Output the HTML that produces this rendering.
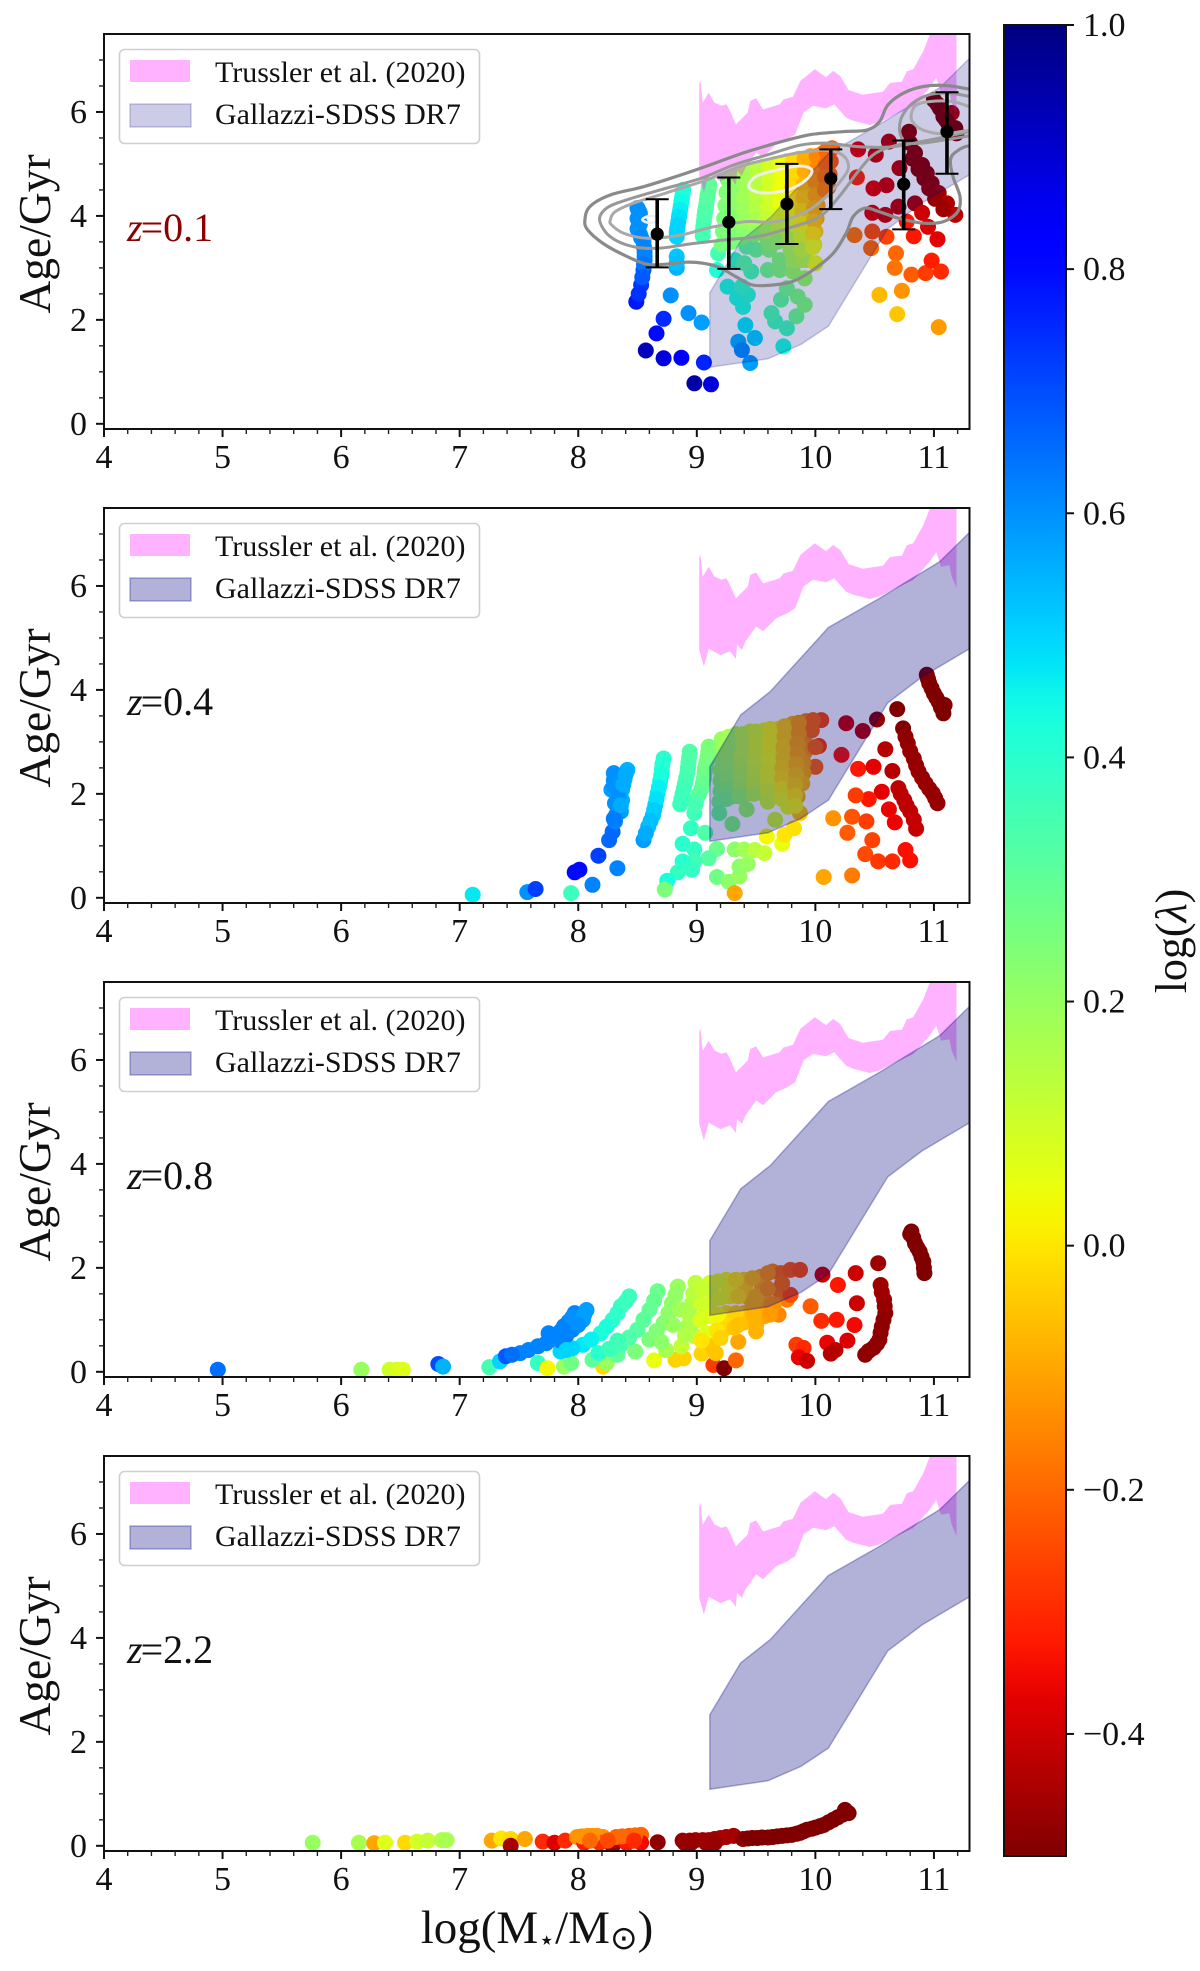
<!DOCTYPE html>
<html lang="en">
<head>
<meta charset="utf-8">
<title>Age versus stellar mass at four redshifts</title>
<style>
html,body{margin:0;padding:0;background:#fff;width:1200px;height:1971px;overflow:hidden}
svg{display:block;font-family:"Liberation Serif",serif}
</style>
</head>
<body>
<svg id="figure" xmlns="http://www.w3.org/2000/svg" width="1200" height="1971" viewBox="0 0 1200 1971">
<defs><linearGradient id="cbGradient" x1="0" y1="0" x2="0" y2="1"></linearGradient></defs>
</svg>
<script>
const xTicks=[4,5,6,7,8,9,10,11];
const xMinorTicks=[4.2,4.4,4.6,4.8,5.2,5.4,5.6,5.8,6.2,6.4,6.6,6.8,7.2,7.4,7.6,7.8,8.2,8.4,8.6,8.8,9.2,9.4,9.6,9.8,10.2,10.4,10.6,10.8,11.2];
const yTicks=[0,2,4,6];
const yMinorTicks=[0.5,1,1.5,2.5,3,3.5,4.5,5,5.5,6.5,7];
const colorbarTicks=[1,0.8,0.6,0.4,0.2,0,-0.2,-0.4];
const colorbarTickLabels=['1.0','0.8','0.6','0.4','0.2','0.0','−0.2','−0.4'];
const redshiftLabels=['0.1','0.4','0.8','2.2'];

const trusslerMass=[9.02,9.03,9.05,9.10,9.15,9.21,9.25,9.28,9.33,9.43,9.45,9.50,9.56,9.70,9.73,9.81,9.875,9.995,10.09,10.15,10.21,10.28,10.40,10.57,10.63,10.73,10.77,10.825,10.91,10.965,11.02,11.19,11.19,11.15,11.13,11.06,11.02,10.965,10.825,10.68,10.54,10.46,10.32,10.26,10.16,10.09,9.98,9.90,9.83,9.76,9.67,9.56,9.50,9.41,9.38,9.34,9.33,9.28,9.20,9.10,9.06,9.02];
const trusslerAge=[6.53,6.61,6.18,6.37,6.18,6.12,6.15,6.02,5.76,5.99,6.21,6.26,6.05,6.15,6.24,6.29,6.60,6.82,6.67,6.79,6.69,6.42,6.33,6.39,6.56,6.58,6.78,6.82,7.17,7.49,7.75,7.75,5.96,6.18,6.40,6.37,6.66,6.47,6.11,5.96,5.80,5.75,5.83,5.89,6.15,6.07,6.12,5.99,5.57,5.47,5.38,5.13,5.22,4.93,4.77,4.87,4.60,4.74,4.67,4.79,4.45,4.77];
const gallazziMass=[9.11,9.37,9.62,10.11,10.54,11.05,11.3,11.3,10.90,10.61,10.11,9.88,9.6,9.11];
const gallazziAge=[2.52,3.52,3.97,5.2,5.76,6.47,7.03,4.79,4.25,3.75,1.88,1.53,1.25,1.09];

const errMass=[8.666,9.27,9.76,10.13,10.745,11.11];
const errAge=[3.65,3.88,4.23,4.72,4.61,5.62];
const errHigh=[4.32,4.74,5.0,5.28,5.45,6.38];
const errLow=[3.01,2.98,3.46,4.13,3.74,4.81];

const contourOuterMass=[8.056,8.098,8.267,8.548,8.829,9.11,9.39,9.67,9.95,10.23,10.43,10.54,10.61,10.74,10.91,11.10,11.30,11.45,11.45,11.30,11.19,11.14,11.16,11.22,11.20,11.08,10.91,10.71,10.54,10.42,10.32,10.26,10.15,9.98,9.81,9.64,9.47,9.33,9.19,9.05,8.91,8.74,8.58,8.41,8.21,8.08];
const contourOuterAge=[3.92,4.18,4.40,4.56,4.76,4.98,5.21,5.40,5.56,5.62,5.65,5.81,6.13,6.36,6.49,6.51,6.44,6.4,5.3,5.35,5.24,5.08,4.76,4.37,4.08,3.89,3.86,3.95,4.08,4.15,3.99,3.67,3.28,2.96,2.74,2.67,2.67,2.83,3.01,3.09,3.11,3.07,3.07,3.22,3.47,3.73];
const contourMidMass=[11.30,10.94,10.71,10.51,10.37,10.20,10.04,9.81,9.53,9.25,8.97,8.69,8.46,8.27,8.18,8.24,8.41,8.69,9.03,9.31,9.59,9.87,10.09,10.37,10.65,10.94,11.30];
const contourMidAge=[5.54,5.41,5.37,5.21,4.88,4.37,3.99,3.79,3.61,3.54,3.47,3.38,3.41,3.60,3.92,4.15,4.31,4.50,4.72,4.98,5.17,5.36,5.40,5.33,5.33,5.45,5.62];
const contourRingMass=[11.45,11.30,11.13,10.96,10.82,10.73,10.71,10.74];
const contourRingAge=[6.25,6.30,6.36,6.33,6.17,5.91,5.65,5.43];
const contourInnerRingMass=[11.45,11.30,11.16,10.96,10.85,10.81,10.82,10.91,11.08,11.30,11.45];
const contourInnerRingAge=[6.0,6.10,6.20,6.20,6.13,5.97,5.81,5.65,5.58,5.65,5.7];
const contourThirdMass=[8.27,8.31,8.46,8.74,9.08,9.36,9.64,9.87,10.09,10.23,10.28,10.23,10.09,9.92,9.67,9.42,9.14,8.86,8.58,8.38,8.28];
const contourThirdAge=[3.92,4.08,4.24,4.44,4.69,4.95,5.11,5.22,5.26,5.17,4.95,4.72,4.37,4.08,3.89,3.89,3.79,3.63,3.57,3.67,3.83];
const contourPeakMass=[9.44,9.50,9.67,9.87,9.97,9.92,9.78,9.59,9.47];
const contourPeakAge=[4.60,4.76,4.88,4.96,4.88,4.69,4.51,4.44,4.49];
const contourSmallMass=[8.54,8.60,8.67,8.66,8.59];
const contourSmallAge=[3.93,4.0,3.97,3.89,3.87];

const massZ01=[
8.50,8.52,8.50,8.52,8.50,8.52,8.55,8.56,8.56,8.55,8.53,8.49,
8.78,8.72,8.66,8.57,8.72,8.87,9.06,8.98,9.12,8.93,9.04,
9.45,9.35,9.38,9.49,9.41,9.73,9.76,9.66,9.63,9.84,9.71,9.91,9.85,
9.39,9.34,9.26,9.43,9.38,9.17,9.18,9.32,9.46,9.40,9.50,9.42,9.60,9.70,9.81,9.91,9.76,9.61,9.70,9.81,9.92,10.0,9.6,
8.885,8.875,8.865,8.855,8.845,8.835,8.83,8.83,8.83,9.105,9.095,9.085,9.075,9.065,9.055,9.05,
9.26,9.25,9.24,9.23,9.22,9.21,
9.36,9.35,9.34,9.33,9.32,9.31,
9.46,9.45,9.44,9.43,9.42,9.41,
9.56,9.55,9.54,9.53,9.52,9.51,
9.66,9.65,9.64,9.63,9.62,9.61,9.6,
9.76,9.75,9.74,9.73,9.72,9.71,9.7,
9.86,9.85,9.84,9.83,9.82,9.81,9.8,9.79,
9.96,9.95,9.94,9.93,9.92,9.91,9.9,9.89,9.88,
10.06,10.05,10.04,10.03,10.02,10.01,10.0,9.99,
10.14,10.13,10.12,10.11,
10.36,10.51,10.62,10.35,10.49,10.60,10.71,10.70,10.84,10.48,10.59,10.90,10.95,11.03,10.77,10.83,10.60,10.48,10.33,10.47,10.68,10.67,10.81,10.93,10.98,11.06,10.73,10.54,10.69,11.04,
10.79,10.80,10.84,10.90,10.94,10.98,11.04,11.11,11.18,
11.0,11.05,11.08,11.12,11.18,11.19,
8.51,8.51,8.51,8.51,8.51,8.53,8.555,8.56,8.555,8.54,8.51,
8.88,8.87,8.86,8.85,8.84,8.83,8.83,
9.10,9.09,9.08,9.07,9.06,9.05,
9.31,9.31,9.30,9.30,9.29,9.29,
9.41,9.41,9.40,9.40,9.39,9.39,
9.51,9.51,9.50,9.50,9.49,9.49,
9.61,9.61,9.60,9.60,9.59,9.59,
9.71,9.71,9.70,9.70,9.69,9.69,9.68,
9.81,9.81,9.80,9.80,9.79,9.79,9.78,
9.91,9.91,9.90,9.90,9.89,9.89,9.88,9.88,
10.01,10.01,10.00,10.00,9.99,9.99,9.98,9.98,
10.09,10.09,10.08,10.08,
10.82,10.87,10.92,10.96,11.01,11.08,11.15,11.03,11.10,11.15];
const ageZ01=[
4.15,4.05,3.95,3.85,3.75,3.65,3.5,3.3,3.15,2.96,2.67,2.35,
2.47,2.02,1.74,1.41,1.26,1.27,1.18,0.78,0.76,2.13,1.95,
1.17,1.58,1.42,1.65,1.90,1.49,1.84,1.97,2.13,2.07,2.39,2.29,2.45,
2.25,2.42,2.64,2.48,2.64,2.96,3.28,3.15,2.93,3.09,3.35,3.41,2.96,2.96,2.93,2.8,2.61,3.35,3.15,3.15,3.15,3.09,3.54,
4.5,4.35,4.2,4.05,3.9,3.75,3.6,3.22,3.0,4.6,4.45,4.3,4.15,4.0,3.8,3.62,
4.7,4.45,4.2,3.95,3.7,3.45,
4.8,4.55,4.3,4.05,3.8,3.55,
4.9,4.65,4.4,4.15,3.9,3.65,
4.95,4.7,4.45,4.2,3.95,3.7,
5.0,4.75,4.5,4.25,4.0,3.75,3.5,
5.05,4.8,4.55,4.3,4.05,3.8,3.55,
5.1,4.85,4.6,4.35,4.1,3.85,3.6,3.35,
5.15,4.9,4.65,4.4,4.15,3.9,3.65,3.4,3.15,
5.2,4.95,4.7,4.45,4.2,3.95,3.7,3.45,
5.3,5.05,4.8,4.55,
5.28,5.18,5.43,4.74,4.53,4.59,4.92,4.18,4.24,4.06,4.02,4.06,3.79,3.55,3.89,3.61,3.60,3.70,3.63,3.38,3.28,3.0,2.87,2.9,3.14,2.93,2.56,2.48,2.11,1.86,
5.62,5.40,5.21,4.98,4.82,4.63,4.44,4.24,4.02,
6.23,6.07,5.91,5.78,5.69,5.59,
4.1,4.0,3.9,3.8,3.7,3.58,3.4,3.22,3.07,2.82,2.5,
4.42,4.28,4.12,3.98,3.82,3.68,3.1,
4.52,4.38,4.22,4.08,3.9,3.7,
4.75,4.5,4.25,4,3.75,3.5,
4.85,4.6,4.35,4.1,3.85,3.6,
4.9,4.65,4.4,4.15,3.9,3.65,
4.95,4.7,4.45,4.2,3.95,3.7,
5.0,4.75,4.5,4.25,4.0,3.75,3.5,
5.05,4.8,4.55,4.3,4.05,3.8,3.55,
5.1,4.85,4.6,4.35,4.1,3.85,3.6,3.35,
5.15,4.9,4.65,4.4,4.15,3.9,3.65,3.4,
5.25,5.0,4.75,4.5,
5.1,4.9,4.72,4.53,4.33,4.13,5.98,6.15,5.85,5.66];
const lambdaZ01=[
.6,.6,.6,.6,.6,.6,.6,.62,.62,.68,.73,.78,
.6,.75,.8,.92,.88,.82,.76,.95,.88,.6,.58,
.58,.55,.6,.5,.47,.43,.36,.36,.34,.28,.3,.24,.25,
.42,.42,.42,.4,.38,.42,.35,.38,.34,.32,.28,.3,.27,.24,.2,.2,.27,.24,.24,.17,.12,.05,.26,
.42,.43,.45,.47,.49,.5,.5,.52,.55,.3,.31,.32,.33,.34,.35,.36,
.24,.24,.24,.25,.25,.26,
.2,.2,.2,.21,.22,.24,
.16,.16,.16,.17,.18,.22,
.12,.12,.12,.13,.15,.2,
.07,.07,.07,.08,.1,.14,.22,
.01,.01,.01,.02,.05,.1,.18,
-.05,-.05,-.05,-.03,0,.05,.1,.17,
-.12,-.12,-.1,-.08,-.05,-.02,.03,.08,.15,
-.18,-.18,-.16,-.13,-.1,-.07,-.03,.02,
-.22,-.22,-.2,-.18,
-.37,-.4,-.42,-.3,-.37,-.4,-.42,-.42,-.44,-.38,-.4,-.4,-.38,-.37,-.33,-.33,-.26,-.24,-.18,-.2,-.2,-.18,-.22,-.27,-.32,-.3,-.13,-.07,-.05,-.12,
-.48,-.48,-.48,-.48,-.48,-.47,-.46,-.44,-.42,
-.5,-.5,-.5,-.5,-.5,-.5,
.6,.6,.6,.6,.6,.61,.62,.62,.64,.68,.74,
.42,.44,.46,.48,.5,.5,.53,
.3,.31,.32,.33,.34,.35,
.22,.22,.22,.23,.24,.25,
.18,.18,.18,.19,.2,.23,
.14,.14,.14,.15,.17,.21,
.09,.09,.09,.1,.12,.17,
.04,.04,.04,.05,.07,.12,.2,
-.02,-.02,-.02,0,.03,.07,.14,
-.09,-.09,-.07,-.05,-.02,.02,.07,.12,
-.15,-.15,-.13,-.1,-.08,-.05,0,.05,
-.2,-.2,-.18,-.16,
-.48,-.48,-.48,-.47,-.47,-.46,-.44,-.5,-.5,-.5];

const massZ04=[
7.11,7.57,7.64,7.94,7.97,8.01,8.17,8.33,8.12,8.26,8.29,8.31,
8.30,8.30,8.28,8.31,8.415,8.39,8.37,8.37,8.36,8.32,
8.72,8.705,8.69,8.67,8.65,8.63,8.59,8.55,
8.94,8.93,8.92,8.90,8.88,8.86,
9.10,9.09,9.07,9.06,9.04,9.0,8.98,
8.95,9.07,8.88,8.98,9.17,9.10,8.98,8.88,8.96,8.84,8.75,8.73,
9.17,9.27,9.36,9.36,9.43,9.32,9.40,9.49,9.57,9.72,9.32,10.07,10.31,
10.05,10.26,10.40,10.52,10.69,10.74,10.22,10.03,10.0,10.59,10.36,10.49,10.65,
10.94,10.96,11.0,11.04,11.08,11.09,
10.78,10.83,10.87,10.93,10.99,11.03,
10.70,10.75,10.80,10.85,10.56,10.45,10.34,10.62,10.67,
10.31,10.43,10.15,10.27,10.48,10.42,10.53,10.65,10.76,10.80,
9.21,9.21,9.21,9.20,9.20,9.20,9.19,9.19,
9.33,9.33,9.32,9.32,9.31,9.31,9.30,9.30,
9.45,9.45,9.44,9.44,9.43,9.43,9.42,9.42,
9.57,9.56,9.56,9.55,9.55,9.54,9.54,
9.69,9.68,9.68,9.67,9.67,9.66,9.66,9.66,
9.81,9.80,9.80,9.79,9.79,9.78,9.78,9.78,9.77,
9.92,9.92,9.91,9.91,9.90,9.90,9.89,
9.98,9.97,10.0,
9.59,9.74,9.82,9.87,9.85,
9.27,9.27,9.27,9.26,9.26,9.26,9.25,
9.39,9.39,9.38,9.38,9.37,9.37,9.36,
9.50,9.50,9.50,9.49,9.49,9.48,9.48,
9.62,9.62,9.61,9.61,9.60,9.60,9.60,9.60,
9.74,9.74,9.73,9.73,9.72,9.72,9.72,9.72,
9.86,9.86,9.85,9.85,9.84,9.84,9.83,9.83,9.83,
8.33,8.40,8.30,8.34,8.30,8.36,8.38,
8.71,8.70,8.68,8.66,8.64,8.61,8.57,
8.935,8.925,8.91,8.89,8.87,
9.095,9.08,9.065,9.05,9.02,8.99,
10.95,10.98,11.02,11.06,10.76,10.80,10.85,10.90,10.96,11.01,10.72,10.77,10.83];
const ageZ04=[
0.06,0.11,0.17,0.09,0.49,0.54,0.81,0.57,0.25,1.11,1.27,1.47,
2.40,2.26,2.08,1.82,2.46,2.28,2.08,1.88,1.66,1.60,
2.68,2.46,2.24,2.01,1.79,1.59,1.37,1.11,
2.81,2.6,2.4,2.2,2.0,1.8,
2.91,2.7,2.5,2.3,2.1,1.9,1.63,
1.34,1.25,1.04,0.93,0.94,0.76,0.70,0.70,0.54,0.49,0.33,0.16,
0.40,0.31,0.41,0.60,0.65,0.93,0.93,0.92,0.86,1.04,0.09,0.40,0.43,
3.42,3.36,3.21,3.43,3.63,3.26,2.75,2.92,2.52,2.86,2.48,2.52,2.44,
4.29,4.13,3.93,3.77,3.55,3.71,
2.97,2.68,2.43,2.20,2.01,1.82,
2.11,1.88,1.66,1.33,2.04,1.90,1.97,1.70,1.45,
1.56,1.47,1.53,1.25,1.11,0.84,0.70,0.70,0.92,0.72,
3.05,2.85,2.65,2.45,2.25,2.05,1.85,1.63,
3.15,2.95,2.75,2.55,2.35,2.15,1.95,1.42,
3.2,3.0,2.8,2.6,2.4,2.2,2.0,1.7,
3.22,3.02,2.82,2.62,2.42,2.22,2.02,
3.25,3.05,2.85,2.65,2.45,2.25,2.05,1.5,
3.35,3.15,2.95,2.75,2.55,2.35,2.15,1.95,1.75,
3.4,3.2,3.0,2.8,2.6,2.4,2.2,
3.42,3.22,2.9,
1.18,1.21,1.34,1.63,1.95,
3.1,2.9,2.7,2.5,2.3,2.1,1.9,
3.15,2.95,2.75,2.55,2.35,2.15,1.95,
3.2,3.0,2.8,2.6,2.4,2.2,2.0,
3.25,3.05,2.85,2.65,2.45,2.25,2.05,1.85,
3.3,3.1,2.9,2.7,2.5,2.3,2.1,1.9,
3.37,3.17,2.97,2.77,2.57,2.37,2.17,1.97,1.77,
2.35,2.38,2.15,1.95,1.52,1.78,2.18,
2.57,2.35,2.12,1.9,1.69,1.48,1.24,
2.7,2.5,2.3,2.1,1.9,
2.8,2.6,2.4,2.2,2.0,1.8,
4.21,4.03,3.85,3.66,3.1,2.82,2.55,2.31,2.1,1.92,2.0,1.77,1.5];
const lambdaZ04=[
.47,.6,.72,.37,.8,.8,.72,.62,.62,.66,.66,.62,
.6,.6,.58,.6,.55,.55,.55,.55,.58,.6,
.4,.42,.45,.47,.5,.52,.54,.58,
.33,.33,.34,.35,.36,.37,
.25,.25,.27,.28,.3,.33,.36,
.38,.33,.4,.38,.28,.32,.36,.4,.38,.38,.43,.25,
.27,.22,.2,.22,.2,.22,.18,.14,.12,.05,-.1,-.1,-.17,
-.25,-.4,-.42,-.48,-.5,-.5,-.33,-.27,-.2,-.43,-.33,-.37,-.43,
-.5,-.5,-.5,-.5,-.5,-.5,
-.47,-.47,-.47,-.47,-.47,-.47,
-.42,-.42,-.41,-.41,-.37,-.33,-.27,-.36,-.36,
-.23,-.27,-.13,-.22,-.26,-.25,-.28,-.3,-.34,-.34,
.2,.2,.2,.2,.22,.24,.26,.28,
.16,.16,.16,.16,.18,.2,.22,.24,
.11,.11,.11,.12,.13,.15,.17,.2,
.06,.06,.06,.07,.08,.1,.12,
0,0,0,.01,.02,.04,.07,.1,
-.08,-.08,-.07,-.06,-.05,-.03,-.01,.02,.05,
-.15,-.15,-.14,-.12,-.1,-.09,-.07,
-.2,-.2,-.2,
.03,0,-.01,-.05,-.08,
.18,.18,.18,.19,.2,.22,.25,
.13,.13,.13,.14,.15,.17,.2,
.08,.08,.08,.09,.1,.11,.14,
.03,.03,.03,.04,.05,.06,.08,.1,
-.04,-.04,-.03,-.03,-.02,-.01,.02,.05,
-.11,-.11,-.1,-.09,-.07,-.05,-.03,0,.03,
.6,.56,.6,.6,.63,.56,.56,
.41,.43,.46,.48,.51,.53,.56,
.33,.34,.35,.36,.37,
.25,.26,.27,.29,.31,.35,
-.5,-.5,-.5,-.5,-.48,-.47,-.47,-.47,-.47,-.47,-.42,-.42,-.41];

const massZ08=[
4.96,6.17,6.41,6.47,6.52,6.82,6.86,
7.25,7.34,7.39,7.66,7.74,7.88,7.94,8.21,8.12,8.24,8.33,8.48,8.64,8.82,8.89,9.04,8.74,8.87,
7.51,7.66,7.80,7.85,7.92,7.97,8.07,8.04,7.95,7.75,
7.85,8.04,8.19,8.29,8.36,8.43,7.95,8.11,
8.17,8.36,8.50,8.6,8.67,8.26,8.43,8.55,
8.6,8.72,8.79,8.84,8.66,8.76,
8.92,8.96,8.99,8.99,8.94,8.97,
9.11,9.13,9.11,9.08,9.13,9.12,9.10,
9.25,9.28,9.25,9.25,9.35,9.27,9.26,
9.40,9.42,9.40,9.50,9.41,9.40,
9.54,9.57,9.57,9.55,9.56,
9.64,9.69,9.69,9.76,9.71,9.79,9.87,9.79,9.65,
9.14,9.23,9.33,9.16,
9.84,9.90,9.86,9.93,9.96,10.05,10.18,10.33,10.06,10.19,10.34,10.35,10.53,
10.10,10.27,10.17,10.13,
10.55,10.58,10.59,10.56,10.54,10.49,10.42,
10.81,10.84,10.88,10.91,10.92,
7.44,7.58,7.73,7.83,7.88,7.95,8.05,8.0,7.9,7.85,
8.24,8.33,8.40,7.9,
8.27,8.43,8.55,8.64,8.33,
8.66,8.76,8.82,8.7,8.8,8.86,
8.94,8.98,8.97,8.9,
9.05,9.04,9.03,9.18,9.2,9.18,9.17,9.33,9.35,9.33,9.32,9.47,9.5,9.48,9.47,
9.6,9.6,9.63,9.72,9.62,9.5,9.2,9.35,9.04,
10.56,10.585,10.575,10.55,10.52,10.45,10.825,10.86,10.895,10.915,10.8];
const ageZ08=[
0.04,0.04,0.04,0.04,0.04,0.15,0.1,
0.09,0.2,0.3,0.17,0.07,0.1,0.17,0.1,0.23,0.17,0.33,0.39,0.22,0.23,0.26,0.35,0.42,0.49,
0.36,0.49,0.62,0.78,0.97,1.13,1.19,1.0,0.81,0.74,
0.39,0.52,0.74,1.0,1.26,1.45,0.45,0.62,
0.36,0.52,0.81,1.19,1.55,0.44,0.66,1.0,
0.62,0.94,1.32,1.64,0.78,1.13,
0.87,1.32,1.71,0.68,1.1,1.5,
1.71,1.39,1.07,0.74,0.49,1.55,1.23,
1.77,1.45,1.13,0.84,0.58,1.61,0.98,
1.77,1.45,1.13,0.78,1.61,0.95,
1.83,1.45,1.07,1.65,1.26,
1.93,1.58,1.1,1.39,1.9,1.96,1.96,1.48,1.3,
0.13,0.07,0.22,0.36,
0.52,0.46,0.28,0.21,1.26,0.98,1.0,0.9,1.87,1.67,1.9,1.32,2.09,
0.56,0.6,0.42,0.35,
1.67,1.39,1.13,0.87,0.62,0.46,0.33,
2.7,2.47,2.31,2.12,1.9,
0.33,0.42,0.55,0.7,0.88,1.05,1.1,0.9,0.7,0.6,
0.87,1.13,1.35,0.42,
0.44,0.66,1.0,1.37,0.6,
0.78,1.13,1.48,0.58,0.9,1.2,
1.08,1.52,0.95,0.7,
1.6,1.3,1.0,1.74,1.42,1.1,0.8,1.77,1.45,1.13,0.85,1.8,1.45,1.1,1.3,
1.9,1.6,1.28,1.7,1.1,0.9,0.65,0.9,0.6,
1.53,1.26,1.0,0.75,0.54,0.4,2.58,2.39,2.21,2.0,2.65];
const lambdaZ08=[
.65,.2,.1,.08,.07,.7,.55,
.35,.5,.68,.38,.03,.2,.27,-.02,.3,.2,.3,.25,.05,-.03,-.03,-.03,.17,.12,
.62,.62,.62,.62,.62,.62,.58,.58,.62,.62,
.5,.47,.43,.4,.38,.37,.5,.46,
.4,.35,.32,.3,.28,.38,.34,.31,
.25,.23,.22,.2,.24,.22,
.17,.15,.13,.13,.16,.14,
.1,.08,.06,.07,-.05,.09,.07,
.03,.02,0,-.04,-.1,.03,-.02,
-.03,-.05,-.06,-.08,-.04,-.06,
-.1,-.1,-.1,-.1,-.1,
-.15,-.18,-.15,-.17,-.2,-.22,-.24,-.25,-.14,
-.27,-.5,-.2,-.05,
-.27,-.3,-.36,-.4,-.22,-.3,-.33,-.35,-.4,-.33,-.4,-.4,-.46,
-.36,-.38,-.42,-.43,
-.46,-.47,-.48,-.48,-.48,-.48,-.48,
-.5,-.5,-.5,-.5,-.5,
.65,.62,.62,.62,.62,.6,.58,.6,.62,.62,
.42,.39,.37,.5,
.37,.33,.31,.29,.36,
.24,.22,.21,.22,.2,.18,
.16,.14,.16,.15,
.11,.1,.08,.06,.05,.03,0,0,-.01,-.03,-.05,-.07,-.08,-.08,-.08,
-.13,-.13,-.13,-.19,-.12,-.08,-.03,-.06,0,
-.46,-.47,-.48,-.48,-.48,-.48,-.5,-.5,-.5,-.5,-.5];

const massZ22=[
5.76,6.15,6.28,6.37,6.54,6.64,6.73,6.85,6.89,
7.27,7.35,7.43,7.43,7.55,7.70,7.80,7.89,
7.99,8.08,8.16,8.21,8.05,8.18,8.29,8.32,8.43,8.53,8.41,8.53,8.67,
8.88,8.99,9.10,9.2,9.31,8.90,9.08,
9.39,9.47,9.55,9.64,9.72,9.80,9.87,9.93,10.0,10.07,10.15,10.23,10.25,10.28,
8.94,9.05,9.15,9.25,9.43,9.51,9.6,9.68,9.76,9.84,9.9,9.97,10.04,10.11,10.19,
8.03,8.12,8.37,8.48,8.47,8.1,8.25,8.95,9.15];
const ageZ22=[
0.06,0.06,0.05,0.06,0.06,0.08,0.1,0.11,0.11,
0.1,0.14,0.13,0.0,0.13,0.08,0.06,0.1,
0.17,0.19,0.19,0.17,0.06,0.06,0.0,0.17,0.19,0.21,0.05,0.06,0.07,
0.1,0.11,0.11,0.15,0.19,0.05,0.05,
0.13,0.15,0.16,0.17,0.19,0.21,0.25,0.31,0.35,0.4,0.5,0.6,0.69,0.63,
0.1,0.11,0.13,0.17,0.14,0.15,0.16,0.18,0.2,0.23,0.28,0.33,0.38,0.45,0.55,
0.18,0.19,0.18,0.2,0.1,0.1,0.1,0.05,0.05];
const lambdaZ22=[
.2,.17,-.1,.07,-.02,.09,.12,.15,.17,
-.1,0,-.02,-.45,-.1,-.3,-.38,-.3,
-.13,-.13,-.13,-.13,-.32,-.3,-.45,-.2,-.22,-.2,-.33,-.35,-.48,
-.47,-.45,-.45,-.45,-.45,-.47,-.47,
-.48,-.5,-.5,-.5,-.5,-.5,-.5,-.5,-.5,-.5,-.5,-.5,-.5,-.5,
-.47,-.46,-.46,-.45,-.5,-.5,-.5,-.5,-.5,-.5,-.5,-.5,-.5,-.5,-.5,
-.13,-.13,-.2,-.2,-.3,-.2,-.25,-.47,-.47];

const jetRedX=[0,0.35,0.66,0.89,1];
const jetRedY=[0,0,1,1,0.5];
const jetGreenX=[0,0.125,0.375,0.64,0.91,1];
const jetGreenY=[0,0,1,1,0,0];
const jetBlueX=[0,0.11,0.34,0.65,1];
const jetBlueY=[0.5,1,1,0,0];

const panelMass=[massZ01,massZ04,massZ08,massZ22];
const panelAge=[ageZ01,ageZ04,ageZ08,ageZ22];
const panelLambda=[lambdaZ01,lambdaZ04,lambdaZ08,lambdaZ22];

const NS='http://www.w3.org/2000/svg';
const svg=document.getElementById('figure');
const axLeft=104, axRight=969.5, axHeight=395, firstBottom=429, panelStep=474;
const xLo=4, xHi=11.3, yLo=-0.1, yHi=7.5;
const cbLeft=1004, cbRight=1066, cbTop=25, cbBottom=1856, cbLo=-0.5, cbHi=1;

function xScale(m){return axLeft+(m-xLo)*(axRight-axLeft)/(xHi-xLo);}
function panelBottom(i){return firstBottom+i*panelStep;}
function yScale(a,i){return panelBottom(i)-(a-yLo)*axHeight/(yHi-yLo);}
function cbScale(v){return cbBottom-(v-cbLo)*(cbBottom-cbTop)/(cbHi-cbLo);}
function clamp(v){return Math.max(0,Math.min(1,v));}
function lerpChannel(xs,ys,t){
  for(let k=1;k<xs.length;k++){
    if(t<=xs[k]){return ys[k-1]+(ys[k]-ys[k-1])*(t-xs[k-1])/(xs[k]-xs[k-1]);}
  }
  return ys[ys.length-1];
}
function jetColor(l){
  const t=clamp((cbHi-l)/(cbHi-cbLo));
  const r=lerpChannel(jetRedX,jetRedY,t),g=lerpChannel(jetGreenX,jetGreenY,t),b=lerpChannel(jetBlueX,jetBlueY,t);
  return 'rgb('+Math.round(r*255)+','+Math.round(g*255)+','+Math.round(b*255)+')';
}
function make(tag,attrs,parent){
  const e=document.createElementNS(NS,tag);
  for(const k in attrs){e.setAttribute(k,attrs[k]);}
  parent.appendChild(e);
  return e;
}
function polyPath(ms,as,i){
  let d='';
  for(let k=0;k<ms.length;k++){d+=(k?'L':'M')+xScale(ms[k]).toFixed(1)+' '+yScale(as[k],i).toFixed(1);}
  return d+'Z';
}
function smoothPath(ms,as,i,closed){
  const p=ms.map((m,k)=>[xScale(m),yScale(as[k],i)]);
  const n=p.length;
  const at=k=>closed?p[(k+n)%n]:p[Math.max(0,Math.min(n-1,k))];
  let d='M'+p[0][0].toFixed(1)+' '+p[0][1].toFixed(1);
  const last=closed?n:n-1;
  for(let k=0;k<last;k++){
    const a=at(k-1),b=at(k),c=at(k+1),e=at(k+2);
    d+='C'+(b[0]+(c[0]-a[0])/6).toFixed(1)+' '+(b[1]+(c[1]-a[1])/6).toFixed(1)+' '+(c[0]-(e[0]-b[0])/6).toFixed(1)+' '+(c[1]-(e[1]-b[1])/6).toFixed(1)+' '+c[0].toFixed(1)+' '+c[1].toFixed(1);
  }
  return d+(closed?'Z':'');
}

const defs=svg.querySelector('defs');
const gradient=document.getElementById('cbGradient');
for(let s=0;s<=60;s++){
  make('stop',{offset:(s/60),'stop-color':jetColor(cbHi-(cbHi-cbLo)*s/60)},gradient);
}

for(let i=0;i<4;i++){
  const top=panelBottom(i)-axHeight, bottom=panelBottom(i);
  const clip=make('clipPath',{id:'clip'+i},defs);
  make('rect',{x:axLeft,y:top,width:axRight-axLeft,height:axHeight},clip);

  const panel=make('g',{},svg);
  
  
  const plot=make('g',{'clip-path':'url(#clip'+i+')'},panel);
  
  

  const ms=panelMass[i],as=panelAge[i],ls=panelLambda[i];
  const count=Math.min(ms.length,as.length,ls.length);
  for(let k=0;k<count;k++){
    const dot=make('circle',{cx:xScale(ms[k]).toFixed(1),cy:yScale(as[k],i).toFixed(1),r:8,fill:jetColor(ls[k])},plot);
    
    
  }

  const band=make('path',{d:polyPath(trusslerMass,trusslerAge,i),fill:'#ff00ff','fill-opacity':0.3},plot);
  
  

  const gallazziAlpha=i===0?0.2:0.3;
  const gal=make('path',{d:polyPath(gallazziMass,gallazziAge,i),fill:'#000080','fill-opacity':gallazziAlpha,stroke:'#000080','stroke-opacity':gallazziAlpha,'stroke-width':1.5},plot);
  
  

  if(i===0){
    const outer=make('path',{d:smoothPath(contourOuterMass,contourOuterAge,0,true),fill:'none',stroke:'#8a8a8a','stroke-width':3.2},plot);
    
    
    const mid=make('path',{d:smoothPath(contourMidMass,contourMidAge,0,false),fill:'none',stroke:'#989898','stroke-width':3},plot);
    
    
    const ring=make('path',{d:smoothPath(contourRingMass,contourRingAge,0,false),fill:'none',stroke:'#989898','stroke-width':3},plot);
    
    
    const innerRing=make('path',{d:smoothPath(contourInnerRingMass,contourInnerRingAge,0,false),fill:'none',stroke:'#aaaaaa','stroke-width':3},plot);
    
    
    const third=make('path',{d:smoothPath(contourThirdMass,contourThirdAge,0,true),fill:'none',stroke:'#a8a8a8','stroke-width':3},plot);
    
    
    const peak=make('path',{d:smoothPath(contourPeakMass,contourPeakAge,0,true),fill:'none',stroke:'#eeeeee','stroke-width':3},plot);
    
    
    const small=make('path',{d:smoothPath(contourSmallMass,contourSmallAge,0,true),fill:'none',stroke:'#eeeeee','stroke-width':2.6},plot);
    
    
    for(let k=0;k<errMass.length;k++){
      const x=xScale(errMass[k]);
      const g=make('g',{},plot);
      
      
      make('line',{x1:x,x2:x,y1:yScale(errLow[k],0),y2:yScale(errHigh[k],0),stroke:'#000','stroke-width':3.6},g);
      make('line',{x1:x-11.5,x2:x+11.5,y1:yScale(errLow[k],0),y2:yScale(errLow[k],0),stroke:'#000','stroke-width':2},g);
      make('line',{x1:x-11.5,x2:x+11.5,y1:yScale(errHigh[k],0),y2:yScale(errHigh[k],0),stroke:'#000','stroke-width':2},g);
      make('circle',{cx:x,cy:yScale(errAge[k],0),r:6.6,fill:'#000'},g);
    }
  }

  const frame=make('rect',{x:axLeft,y:top,width:axRight-axLeft,height:axHeight,fill:'none',stroke:'#111','stroke-width':2},panel);
  
  

  for(const v of xTicks){
    const x=xScale(v);
    const t=make('line',{x1:x,x2:x,y1:bottom,y2:bottom+8,stroke:'#111','stroke-width':2},panel);
    
    
    const lab=make('text',{x:x,y:bottom+39,'text-anchor':'middle','font-size':34,fill:'#111'},panel);
    lab.textContent=String(v);
    
    
  }
  for(const v of xMinorTicks){
    const x=xScale(v);
    const t=make('line',{x1:x,x2:x,y1:bottom,y2:bottom+5,stroke:'#222','stroke-width':1.4},panel);
    
    
  }
  for(const v of yTicks){
    const y=yScale(v,i);
    const t=make('line',{x1:axLeft-8,x2:axLeft,y1:y,y2:y,stroke:'#111','stroke-width':2},panel);
    
    
    const lab=make('text',{x:87,y:y+11,'text-anchor':'end','font-size':34,fill:'#111'},panel);
    lab.textContent=String(v);
    
    
  }
  for(const v of yMinorTicks){
    const y=yScale(v,i);
    const t=make('line',{x1:axLeft-5,x2:axLeft,y1:y,y2:y,stroke:'#222','stroke-width':1.4},panel);
    
    
  }

  const yTitle=make('text',{transform:'translate(50 '+(top+200)+') rotate(-90)','text-anchor':'middle','font-size':45.5,fill:'#111'},panel);
  yTitle.textContent='Age/Gyr';
  
  

  const zText=make('text',{x:127,y:top+207,'font-size':40,fill:i===0?'#8b0000':'#111'},panel);
  
  
  const zItalic=make('tspan',{'font-style':'italic'},zText);
  zItalic.textContent='z';
  const zValue=make('tspan',{dx:-2},zText);
  zValue.textContent='='+redshiftLabels[i];

  const legend=make('g',{},panel);
  
  
  make('rect',{x:119.5,y:top+15.5,width:360,height:94,rx:5,ry:5,fill:'#fff','fill-opacity':0.9,stroke:'#cfcfcf','stroke-width':1.6},legend);
  const patch1=make('rect',{x:130,y:top+26,width:60,height:22,fill:'#ff00ff','fill-opacity':0.3},legend);
  
  
  const patch2=make('rect',{x:130,y:top+70,width:61,height:23,fill:'#000080','fill-opacity':gallazziAlpha,stroke:'#000080','stroke-opacity':gallazziAlpha,'stroke-width':1.5},legend);
  
  
  const leg1=make('text',{x:215,y:top+48,'font-size':30,fill:'#111'},legend);
  leg1.textContent='Trussler et al. (2020)';
  
  
  const leg2=make('text',{x:215,y:top+90,'font-size':30,fill:'#111'},legend);
  leg2.textContent='Gallazzi-SDSS DR7';
  
  
}

const xTitle=make('text',{x:537,y:1943,'text-anchor':'middle','font-size':47,fill:'#111'},svg);


const xt1=make('tspan',{},xTitle);
xt1.textContent='log(M';
const xt2=make('tspan',{'font-size':27,dy:6,'font-family':'"DejaVu Sans",sans-serif'},xTitle);
xt2.textContent='⋆';
const xt3=make('tspan',{dy:-6},xTitle);
xt3.textContent='/M';
const xt4=make('tspan',{'font-size':33,dy:6,'font-family':'"DejaVu Sans",sans-serif'},xTitle);
xt4.textContent='⊙';
const xt5=make('tspan',{dy:-6},xTitle);
xt5.textContent=')';

const cb=make('g',{},svg);


const cbRect=make('rect',{x:cbLeft,y:cbTop,width:cbRight-cbLeft,height:cbBottom-cbTop,fill:'url(#cbGradient)',stroke:'#111','stroke-width':2},cb);


colorbarTicks.forEach((v,k)=>{
  const y=cbScale(v);
  const t=make('line',{x1:cbRight,x2:cbRight+8,y1:y,y2:y,stroke:'#111','stroke-width':2},cb);
  
  
  const lab=make('text',{x:1083,y:y+11,'font-size':34,fill:'#111'},cb);
  lab.textContent=colorbarTickLabels[k];
  
  
});
const cbTitle=make('text',{transform:'translate(1186 941) rotate(-90)','text-anchor':'middle','font-size':44,fill:'#111'},cb);


const cb1=make('tspan',{},cbTitle);
cb1.textContent='log(';
const cb2=make('tspan',{'font-style':'italic'},cbTitle);
cb2.textContent='λ';
const cb3=make('tspan',{},cbTitle);
cb3.textContent=')';
</script>
</body>
</html>
